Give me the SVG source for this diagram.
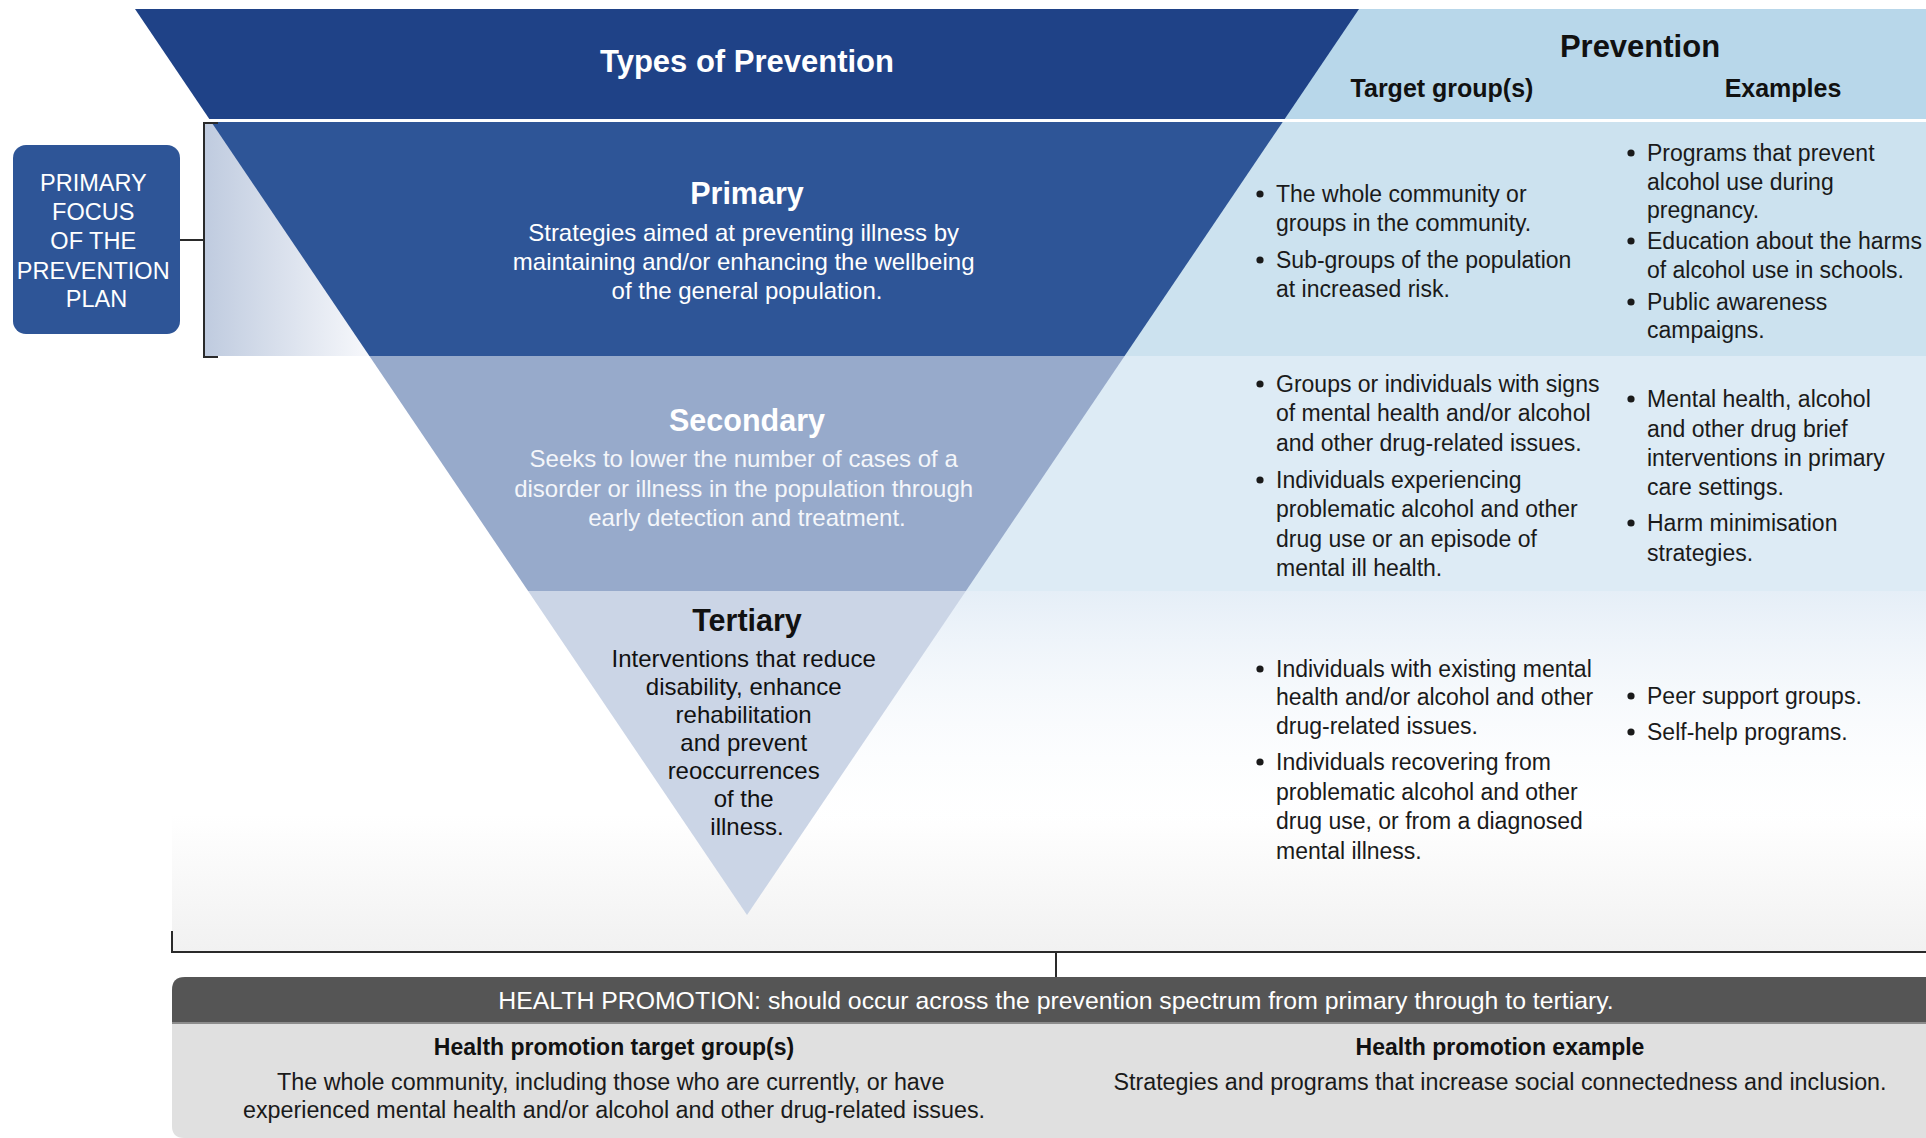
<svg xmlns="http://www.w3.org/2000/svg" width="1926" height="1138" viewBox="0 0 1926 1138">
  <style>
    text { font-family: "Liberation Sans", Arial, Helvetica, sans-serif; }
    .h1 { font-size: 31px; font-weight: bold; }
    .h2 { font-size: 25px; font-weight: bold; fill: #111; }
    .tt { font-size: 30.5px; font-weight: bold; text-anchor: middle; }
    .tb { font-size: 24px; text-anchor: middle; }
    .col { font-size: 23px; fill: #1a1a1a; }
    .box { font-size: 23.5px; fill: #ffffff; text-anchor: middle; }
    .hp { font-size: 24.8px; fill: #ffffff; text-anchor: middle; }
    .hps { font-size: 23px; font-weight: bold; fill: #111; text-anchor: middle; }
    .hpb { font-size: 23.3px; fill: #1a1a1a; text-anchor: middle; }
    .dot { fill: #1a1a1a; }
    .line { fill: none; stroke: #2a2a2a; stroke-width: 2; }
  </style>
  <defs>
    <linearGradient id="leftFade" x1="0" y1="0" x2="1" y2="0">
      <stop offset="0" stop-color="#BFCBDF"/>
      <stop offset="1" stop-color="#F8F9FC"/>
    </linearGradient>
    <linearGradient id="bottomFade" x1="0" y1="0" x2="0" y2="1">
      <stop offset="0" stop-color="#FFFFFF"/>
      <stop offset="0.62" stop-color="#FFFFFF"/>
      <stop offset="1" stop-color="#F1F1F1"/>
    </linearGradient>
    <linearGradient id="blueFade" x1="0" y1="0" x2="0" y2="1">
      <stop offset="0" stop-color="#E5EEF7" stop-opacity="1"/>
      <stop offset="1" stop-color="#FFFFFF" stop-opacity="0"/>
    </linearGradient>
  </defs>

  <rect x="0" y="0" width="1926" height="1138" fill="#ffffff"/>

  <!-- backgrounds -->
  <g id="backgrounds">
    <rect x="172" y="591" width="1754" height="361" fill="url(#bottomFade)"/>
    <rect x="747" y="591" width="1179" height="255" fill="url(#blueFade)"/>
    <rect x="1000" y="9" width="926" height="110" fill="#B8D7EA"/>
    <rect x="1000" y="122" width="926" height="234" fill="#CCE2EF"/>
    <rect x="900" y="356" width="1026" height="235" fill="#DDEBF5"/>
    <rect x="204" y="122" width="168" height="234" fill="url(#leftFade)"/>
  </g>

  <!-- header -->
  <g id="header">
    <polygon points="135,9 1359,9 1284.7,119 209.3,119" fill="#1F4287"/>
    <text class="h1" x="747" y="72" text-anchor="middle" fill="#ffffff">Types of Prevention</text>
    <text class="h1" x="1640" y="57" text-anchor="middle" fill="#111111">Prevention</text>
    <text class="h2" x="1442" y="97" text-anchor="middle">Target group(s)</text>
    <text class="h2" x="1783" y="97" text-anchor="middle">Examples</text>
  </g>

  <!-- primary tier -->
  <g id="tier-primary">
    <polygon points="211.3,122 1282.7,122 1124.6,356 369.4,356" fill="#2E5597"/>
    <text class="tt" x="747" y="204" fill="#ffffff">Primary</text>
    <text class="tb" fill="#ffffff">
      <tspan x="747" y="241">Strategies aimed at preventing illness by</tspan>
      <tspan x="747" y="270">maintaining and/or enhancing the wellbeing</tspan>
      <tspan x="747" y="299">of the general population.</tspan>
    </text>
    <g id="primary-targets">
      <circle class="dot" cx="1260" cy="194" r="3.6"/>
      <circle class="dot" cx="1260" cy="260" r="3.6"/>
      <text class="col">
        <tspan x="1276" y="202">The whole community or</tspan>
        <tspan x="1276" y="231">groups in the community.</tspan>
        <tspan x="1276" y="268">Sub-groups of the population</tspan>
        <tspan x="1276" y="297">at increased risk.</tspan>
      </text>
    </g>
    <g id="primary-examples">
      <circle class="dot" cx="1631" cy="153" r="3.6"/>
      <circle class="dot" cx="1631" cy="241" r="3.6"/>
      <circle class="dot" cx="1631" cy="302" r="3.6"/>
      <text class="col">
        <tspan x="1647" y="161">Programs that prevent</tspan>
        <tspan x="1647" y="190">alcohol use during</tspan>
        <tspan x="1647" y="218">pregnancy.</tspan>
        <tspan x="1647" y="249">Education about the harms</tspan>
        <tspan x="1647" y="278">of alcohol use in schools.</tspan>
        <tspan x="1647" y="310">Public awareness</tspan>
        <tspan x="1647" y="338">campaigns.</tspan>
      </text>
    </g>
  </g>

  <!-- secondary tier -->
  <g id="tier-secondary">
    <polygon points="369.4,356 1124.6,356 965.9,591 528.1,591" fill="#97AACB"/>
    <text class="tt" x="747" y="431" fill="#ffffff">Secondary</text>
    <text class="tb" fill="#F4F6FA">
      <tspan x="747" y="467">Seeks to lower the number of cases of a</tspan>
      <tspan x="747" y="497">disorder or illness in the population through</tspan>
      <tspan x="747" y="526">early detection and treatment.</tspan>
    </text>
    <g id="secondary-targets">
      <circle class="dot" cx="1260" cy="384" r="3.6"/>
      <circle class="dot" cx="1260" cy="480" r="3.6"/>
      <text class="col">
        <tspan x="1276" y="392">Groups or individuals with signs</tspan>
        <tspan x="1276" y="421">of mental health and/or alcohol</tspan>
        <tspan x="1276" y="451">and other drug-related issues.</tspan>
        <tspan x="1276" y="488">Individuals experiencing</tspan>
        <tspan x="1276" y="517">problematic alcohol and other</tspan>
        <tspan x="1276" y="547">drug use or an episode of</tspan>
        <tspan x="1276" y="576">mental ill health.</tspan>
      </text>
    </g>
    <g id="secondary-examples">
      <circle class="dot" cx="1631" cy="399" r="3.6"/>
      <circle class="dot" cx="1631" cy="523" r="3.6"/>
      <text class="col">
        <tspan x="1647" y="407">Mental health, alcohol</tspan>
        <tspan x="1647" y="437">and other drug brief</tspan>
        <tspan x="1647" y="466">interventions in primary</tspan>
        <tspan x="1647" y="495">care settings.</tspan>
        <tspan x="1647" y="531">Harm minimisation</tspan>
        <tspan x="1647" y="561">strategies.</tspan>
      </text>
    </g>
  </g>

  <!-- tertiary tier -->
  <g id="tier-tertiary">
    <polygon points="528.1,591 965.9,591 747,915" fill="#CBD5E6"/>
    <text class="tt" x="747" y="631" fill="#111111">Tertiary</text>
    <text class="tb" fill="#111111">
      <tspan x="747" y="667">Interventions that reduce</tspan>
      <tspan x="747" y="695">disability, enhance</tspan>
      <tspan x="747" y="723">rehabilitation</tspan>
      <tspan x="747" y="751">and prevent</tspan>
      <tspan x="747" y="779">reoccurrences</tspan>
      <tspan x="747" y="807">of the</tspan>
      <tspan x="747" y="835">illness.</tspan>
    </text>
    <g id="tertiary-targets">
      <circle class="dot" cx="1260" cy="669" r="3.6"/>
      <circle class="dot" cx="1260" cy="762" r="3.6"/>
      <text class="col">
        <tspan x="1276" y="677">Individuals with existing mental</tspan>
        <tspan x="1276" y="705">health and/or alcohol and other</tspan>
        <tspan x="1276" y="734">drug-related issues.</tspan>
        <tspan x="1276" y="770">Individuals recovering from</tspan>
        <tspan x="1276" y="800">problematic alcohol and other</tspan>
        <tspan x="1276" y="829">drug use, or from a diagnosed</tspan>
        <tspan x="1276" y="859">mental illness.</tspan>
      </text>
    </g>
    <g id="tertiary-examples">
      <circle class="dot" cx="1631" cy="696" r="3.6"/>
      <circle class="dot" cx="1631" cy="732" r="3.6"/>
      <text class="col">
        <tspan x="1647" y="704">Peer support groups.</tspan>
        <tspan x="1647" y="740">Self-help programs.</tspan>
      </text>
    </g>
  </g>

  <!-- primary focus box -->
  <g id="primary-focus">
    <rect x="13" y="145" width="167" height="189" rx="13" ry="13" fill="#2E5597"/>
    <text class="box">
      <tspan x="96.5" y="191">PRIMARY</tspan>
      <tspan x="96.5" y="220">FOCUS</tspan>
      <tspan x="96.5" y="249">OF THE</tspan>
      <tspan x="96.5" y="279">PREVENTION</tspan>
      <tspan x="96.5" y="307">PLAN</tspan>
    </text>
  </g>

  <!-- health promotion -->
  <g id="health-promotion">
    <path d="M172,1126 V990 Q172,977 185,977 H1926 V1138 H184 Q172,1138 172,1126 Z" fill="#E0E0E0"/>
    <path d="M172,1022 V990 Q172,977 185,977 H1926 V1022 Z" fill="#555555"/>
    <line x1="172" y1="1023" x2="1926" y2="1023" stroke="#8C8C8C" stroke-width="2"/>
    <text class="hp" x="1056" y="1009">HEALTH PROMOTION: should occur across the prevention spectrum from primary through to tertiary.</text>
    <text class="hps" x="614" y="1055">Health promotion target group(s)</text>
    <text class="hpb">
      <tspan x="614" y="1090">The whole community, including those who are currently, or have</tspan>
      <tspan x="614" y="1118">experienced mental health and/or alcohol and other drug-related issues.</tspan>
    </text>
    <text class="hps" x="1500" y="1055">Health promotion example</text>
    <text class="hpb" x="1500" y="1090">Strategies and programs that increase social connectedness and inclusion.</text>
  </g>

  <!-- connectors -->
  <g id="connectors">
    <path class="line" d="M218,123 H204 V357 H218"/>
    <path class="line" d="M180,240 H204" stroke="#444"/>
    <path class="line" d="M172,931 V952 H1926"/>
    <path class="line" d="M1056,952 V977"/>
  </g>
</svg>
